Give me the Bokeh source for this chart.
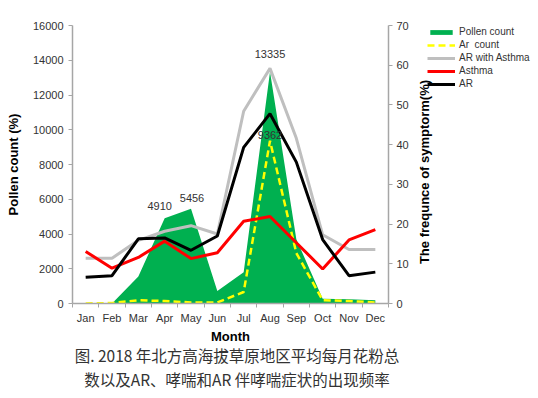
from bokeh.plotting import figure
from bokeh.layouts import column, row
from bokeh.models import (Range1d, LinearAxis, FixedTicker, Legend, LegendItem,
                          Div, ColumnDataSource)
from bokeh.core.properties import value
from bokeh.embed import file_html
from bokeh.resources import INLINE

months = ["Jan", "Feb", "Mar", "Apr", "May", "Jun", "Jul", "Aug", "Sep", "Oct", "Nov", "Dec"]
pollen_count = [0, 0, 1550, 4910, 5456, 720, 1800, 13335, 3700, 280, 250, 190]
ar_count = [0, 30, 190, 140, 60, 60, 660, 9362, 2900, 190, 140, 60]
ar_with_asthma = [11.4, 11.4, 15.9, 18.2, 19.6, 17.5, 48.4, 59.2, 41.6, 17.3, 13.6, 13.6]
asthma = [13.1, 8.9, 11.6, 15.7, 11.3, 12.8, 20.7, 21.9, 15.3, 8.7, 16.0, 18.6]
ar = [6.6, 7.0, 16.3, 16.5, 13.4, 17.0, 39.3, 47.8, 35.6, 16.1, 7.0, 7.9]
left_ticks = [0, 2000, 4000, 6000, 8000, 10000, 12000, 14000, 16000]
right_ticks = [0, 10, 20, 30, 40, 50, 60, 70]
annot_month = ["Apr", "May", "Aug", "Aug"]
annot_value = [4910, 5456, 13335, 9362]
series_names = ["Pollen count", "Ar  count", "AR with Asthma", "Asthma", "AR"]
right_title = "The frequnce of symptorm(%)"
caption = ["图. 2018 年北方高海拔草原地区平均每月花粉总",
           "数以及AR、哮喘和AR  伴哮喘症状的出现频率"]

FONT = "Liberation Sans"
CJK = "Noto Sans CJK SC"
TXT = "#333333"
AX = "#A6A6A6"

x = list(range(len(months)))


def draw_series(fig, pct_range):
    rs = []
    rs.append(fig.varea(x=x, y1=[0] * len(x), y2=pollen_count, fill_color="#00B050"))
    rs.append(fig.line(x, ar_count, line_color="#FFFF00", line_width=2.5, line_dash="7 4"))
    rs.append(fig.line(x, ar_with_asthma, y_range_name=pct_range, line_color="#BFBFBF", line_width=3))
    rs.append(fig.line(x, asthma, y_range_name=pct_range, line_color="#FF0000", line_width=3))
    rs.append(fig.line(x, ar, y_range_name=pct_range, line_color="black", line_width=3))
    return rs


p = figure(width=411, height=346, output_backend="svg", toolbar_location=None,
           x_range=Range1d(-0.5, len(months) - 0.5), y_range=Range1d(0, 16000),
           min_border_left=72, min_border_right=22, min_border_top=25,
           min_border_bottom=39, outline_line_color=None, background_fill_color=None,
           border_fill_color="white", margin=0)
p.xgrid.visible = False
p.ygrid.visible = False
p.extra_y_ranges = {"pct": Range1d(0, 70)}

# axes
xa = p.xaxis[0]
xa.ticker = FixedTicker(ticks=x, minor_ticks=[i - 0.5 for i in range(len(months) + 1)])
xa.major_label_overrides = {i: m for i, m in enumerate(months)}
xa.major_tick_line_color = None
xa.major_tick_out = 0
xa.minor_tick_in = 0
xa.minor_tick_out = 4
xa.minor_tick_line_color = AX
xa.axis_line_color = AX
xa.axis_line_width = 1.5
xa.major_label_standoff = 4
xa.major_label_text_font = FONT
xa.major_label_text_font_size = "11px"
xa.major_label_text_color = TXT
xa.axis_label = "Month"
xa.axis_label_text_font = FONT
xa.axis_label_text_font_style = "bold"
xa.axis_label_text_font_size = "13px"
xa.axis_label_text_color = "black"
xa.axis_label_standoff = 2

ya = p.yaxis[0]
ya.ticker = FixedTicker(ticks=left_ticks)
ya.minor_tick_line_color = None
ya.major_tick_in = 0
ya.major_tick_out = 4
ya.major_tick_line_color = AX
ya.axis_line_color = AX
ya.axis_line_width = 1.5
ya.major_label_standoff = 5
ya.major_label_text_font = FONT
ya.major_label_text_font_size = "11px"
ya.major_label_text_color = TXT
ya.axis_label = "Pollen count (%)"
ya.axis_label_text_font = FONT
ya.axis_label_text_font_style = "bold"
ya.axis_label_text_font_size = "13px"
ya.axis_label_text_color = "black"
ya.axis_label_standoff = 9

ra = LinearAxis(y_range_name="pct", ticker=FixedTicker(ticks=right_ticks))
ra.minor_tick_line_color = None
ra.major_tick_in = 0
ra.major_tick_out = 4
ra.major_tick_line_color = AX
ra.axis_line_color = AX
ra.axis_line_width = 1.5
ra.major_label_standoff = 4
ra.major_label_text_font = FONT
ra.major_label_text_font_size = "11px"
ra.major_label_text_color = TXT
p.add_layout(ra, "right")

draw_series(p, "pct")

# value annotations
src = ColumnDataSource(dict(
    x=[months.index(m) for m in annot_month],
    y=annot_value,
    t=[str(v) for v in annot_value],
    xo=[-5, 1, 0, 0],
    yo=[-12, -11, -18, -6],
))
p.text(x="x", y="y", text="t", x_offset="xo", y_offset="yo", source=src,
       text_align="center", text_baseline="middle", text_font=value(FONT),
       text_font_size="11px", text_color=TXT)

# right-axis title (reads bottom to top, as in the original)
rt = Div(text=('<div style="position:absolute; left:14px; top:172px; '
               'transform: translate(-50%, -50%) rotate(-90deg); white-space:nowrap; '
               "font-family:'Liberation Sans'; font-weight:bold; font-size:13px; "
               'color:black;">' + right_title + '</div>'),
         width=16, height=346, margin=0, styles={"position": "relative", "overflow": "visible"})

# legend panel (separate canvas to the right, same series as legend proxies)
lg = figure(width=111, height=346, output_backend="svg", toolbar_location=None,
            x_range=Range1d(1000, 1001), y_range=Range1d(0, 16000),
            x_axis_location=None, y_axis_location=None,
            min_border_left=0, min_border_right=0, min_border_bottom=0, min_border_top=3,
            outline_line_color=None, background_fill_color=None,
            border_fill_color="white", margin=0)
lg.grid.visible = False
lg.extra_y_ranges = {"pct": Range1d(0, 70)}
proxies = draw_series(lg, "pct")

legend = Legend(items=[LegendItem(label=n, renderers=[r]) for n, r in zip(series_names, proxies)],
                location="top_left", orientation="vertical", padding=0, margin=0, spacing=0,
                label_height=13, glyph_height=6, glyph_width=28, label_standoff=4,
                label_text_font=FONT, label_text_font_size="10px", label_text_color=TXT,
                label_text_baseline="middle",
                border_line_color=None, background_fill_alpha=0)
lg.add_layout(legend, "center")

cap = Div(text="<br>".join(caption), width=474, height=48, margin=0,
          styles={"text-align": "center", "font-family": "'Noto Sans CJK SC'",
                  "font-size": "15.5px", "line-height": "24px", "color": TXT,
                  "white-space": "nowrap", "position": "relative", "top": "-3px"})

layout = column(row(p, rt, lg, spacing=0), cap, spacing=0)
open("out.html", "w").write(file_html(layout, INLINE))
